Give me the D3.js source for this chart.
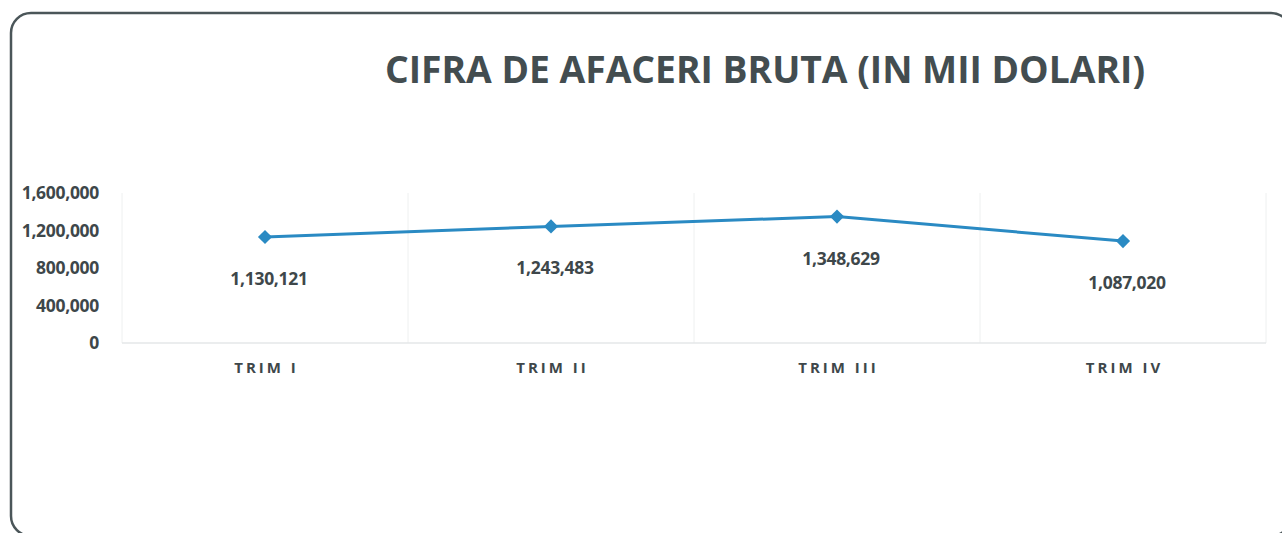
<!DOCTYPE html>
<html>
<head>
<meta charset="utf-8">
<script src="https://cdn.jsdelivr.net/npm/d3@7"></script>
<style>
  body { margin: 0; background: #fff; }
  svg { display: block; font-family: "Open Sans", "Noto Sans", sans-serif; }
</style>
</head>
<body>
<div id="chart"></div>
<script>
// chart data
var categories = ["TRIM I", "TRIM II", "TRIM III", "TRIM IV"];
var values = [1130121, 1243483, 1348629, 1087020];
var yTicks = [0, 400000, 800000, 1200000, 1600000];
var titleText = "CIFRA DE AFACERI BRUTA (IN MII DOLARI)";

var W = 1282, H = 533;
var margin = {top: 193, right: 16, bottom: 190, left: 122};
var width = W - margin.left - margin.right,
    height = H - margin.top - margin.bottom;

var svg = d3.select("#chart")
  .append("svg")
  .attr("width", W)
  .attr("height", H);

// outer frame (bottom and right edges run past the page)
svg.append("rect")
  .attr("x", 11).attr("y", 13)
  .attr("width", 1280).attr("height", 523)
  .attr("rx", 20).attr("ry", 20)
  .attr("fill", "none")
  .attr("stroke", "#4b5659")
  .attr("stroke-width", 2.5);

// title
svg.append("text")
  .attr("x", 765)
  .attr("y", 83)
  .attr("text-anchor", "middle")
  .attr("font-size", "37px")
  .attr("font-weight", 700)
  .attr("textLength", 760)
  .attr("lengthAdjust", "spacingAndGlyphs")
  .attr("fill", "#434d50")
  .text(titleText);

var g = svg.append("g")
  .attr("transform", "translate(" + margin.left + "," + margin.top + ")");

var x = d3.scaleBand()
  .domain(categories)
  .range([0, width])
  .padding(0);

var y = d3.scaleLinear()
  .domain([0, 1600000])
  .range([height, 0]);

// faint category separators
g.append("g")
  .selectAll("line")
  .data(categories.concat(["end"]))
  .enter().append("line")
    .attr("x1", function(d, i) { return i * x.step(); })
    .attr("x2", function(d, i) { return i * x.step(); })
    .attr("y1", 0)
    .attr("y2", height)
    .attr("stroke", "#eef0f0")
    .attr("stroke-width", 1);

// baseline
g.append("line")
  .attr("x1", 0).attr("x2", width)
  .attr("y1", height).attr("y2", height)
  .attr("stroke", "#e4e7e8")
  .attr("stroke-width", 1.5);

// y axis
var yAxis = g.append("g")
  .attr("transform", "translate(-20,0)")
  .call(d3.axisLeft(y).tickValues(yTicks).tickSize(0).tickFormat(d3.format(",")));
yAxis.select(".domain").remove();
yAxis.selectAll("text")
  .attr("font-size", "17.5px")
  .attr("font-weight", 700)
  .attr("font-family", "'Open Sans', sans-serif")
  .attr("letter-spacing", "-0.3px")
  .attr("fill", "#3e474a");

// x axis
var xAxis = g.append("g")
  .attr("transform", "translate(0," + height + ")")
  .call(d3.axisBottom(x).tickSize(0).tickPadding(19));
xAxis.select(".domain").remove();
xAxis.selectAll("text")
  .attr("font-size", "15px")
  .attr("font-weight", 700)
  .attr("letter-spacing", "3px")
  .attr("dx", "1.5px")
  .attr("font-family", "'Open Sans', sans-serif")
  .attr("fill", "#3e474a");

// line
var cx = function(i) { return x(categories[i]) + x.bandwidth() / 2; };
var line = d3.line()
  .x(function(d, i) { return cx(i); })
  .y(function(d) { return y(d); });

g.append("path")
  .datum(values)
  .attr("fill", "none")
  .attr("stroke", "#2a8ac3")
  .attr("stroke-width", 3)
  .attr("d", line);

// diamond markers
g.selectAll(".marker")
  .data(values)
  .enter().append("path")
    .attr("class", "marker")
    .attr("d", d3.symbol().type(d3.symbolSquare).size(100))
    .attr("fill", "#2a8ac3")
    .attr("transform", function(d, i) {
      return "translate(" + cx(i) + "," + y(d) + ") rotate(45)";
    });

// data labels below points
g.selectAll(".lbl")
  .data(values)
  .enter().append("text")
    .attr("class", "lbl")
    .attr("x", function(d, i) { return cx(i) + 4; })
    .attr("y", function(d) { return y(d) + 48; })
    .attr("text-anchor", "middle")
    .attr("font-size", "17.5px")
    .attr("font-weight", 700)
    .attr("letter-spacing", "-0.3px")
    .attr("fill", "#3e474a")
    .text(function(d) { return d3.format(",")(d); });
</script>
</body>
</html>
